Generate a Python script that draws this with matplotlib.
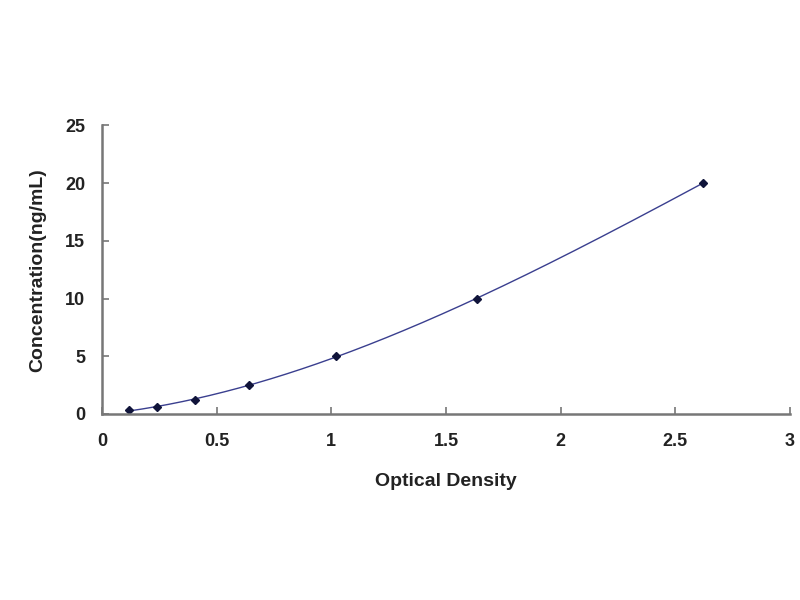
import numpy as np
import matplotlib
matplotlib.use("Agg")
import matplotlib.pyplot as plt

plt.rcParams['font.family'] = ['Liberation Sans', 'DejaVu Sans']

od = [0.116, 0.242, 0.406, 0.642, 1.019, 1.635, 2.62]
conc = [0.31, 0.63, 1.25, 2.5, 5.0, 10.0, 20.0]
x_ticks = [0, 0.5, 1, 1.5, 2, 2.5, 3]
x_tick_labels = ['0', '0.5', '1', '1.5', '2', '2.5', '3']
y_ticks = [0, 5, 10, 15, 20, 25]
y_tick_labels = ['0', '5', '10', '15', '20', '25']

fig = plt.figure(figsize=(8, 6), dpi=100)
ax = fig.add_axes([0.1275, 0.31, 0.86, 0.481])

coef = np.polyfit(od, conc, 3)
xs = np.linspace(min(od), max(od), 300)
ax.plot(xs, np.polyval(coef, xs), color='#3a3f8f', lw=1.0)
ax.plot(od, conc, linestyle='none', marker='D', ms=4, color='#10143a')

ax.set_xlim(0, 3)
ax.set_ylim(0, 25)
ax.set_xticks(x_ticks)
ax.set_xticklabels(x_tick_labels)
ax.set_yticks(y_ticks)
ax.set_yticklabels(y_tick_labels)

for s in ['top', 'right']:
    ax.spines[s].set_visible(False)
for s in ['left', 'bottom']:
    ax.spines[s].set_color('#777777')
    ax.spines[s].set_linewidth(1.8)

ax.tick_params(direction='in', length=5, width=1.2, color='#777777',
               labelsize=13, pad=12)
ax.tick_params(axis='x', pad=14)
for lab in ax.get_xticklabels() + ax.get_yticklabels():
    lab.set_fontweight('bold')
    lab.set_color('#222222')

ax.set_xlabel('Optical Density', fontsize=14, fontweight='bold', color='#222222', labelpad=16)
ax.set_ylabel('Concentration(ng/mL)', fontsize=14, fontweight='bold', color='#222222', labelpad=14)

fig.savefig('out.png', dpi=100)
